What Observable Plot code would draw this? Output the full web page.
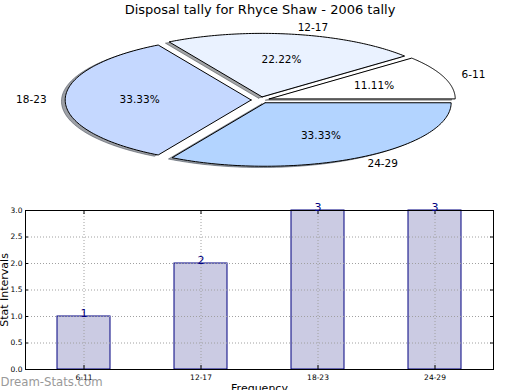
<!DOCTYPE html>
<html><head><meta charset="utf-8">
<script src="https://cdn.jsdelivr.net/npm/d3@7"></script>
<script src="https://cdn.jsdelivr.net/npm/@observablehq/plot@0.6"></script>
<style>
body{margin:0;background:#fff;}
#wrap{position:relative;width:520px;height:390px;overflow:hidden;font-family:"DejaVu Sans";}
#title{position:absolute;left:0;top:2px;width:520px;text-align:center;font-size:13px;line-height:15px;color:#000;}
#pie{position:absolute;left:0;top:0;}
#bar{position:absolute;left:0;top:200px;}
</style>
</head><body>
<div id="wrap">
  <div id="pie"></div>
  <div id="bar"></div>
  <div id="title">Disposal tally for Rhyce Shaw - 2006 tally</div>
</div>
<script>
const titleText = "Disposal tally for Rhyce Shaw - 2006 tally";
const categories = ["6-11", "12-17", "18-23", "24-29"];
const counts = [1, 2, 3, 3];
const pieColors = ["#ffffff", "#eaf2ff", "#c5d8ff", "#b3d4ff"];
const explode = [0.05, 0.05, 0.05, 0.05];
const yTicks = [0, 0.5, 1, 1.5, 2, 2.5, 3];
const xLabel = "Frequency";
const yLabel = "Stat Intervals";
const watermark = "Dream-Stats.com";

// ---- pie geometry (data units, unit radius) ----
const total = d3.sum(counts);
const slices = [], shadows = [], names = [], pcts = [];
let acc = 0;
categories.forEach((c, i) => {
  const frac = counts[i] / total;
  const a0 = acc * 2 * Math.PI, a1 = (acc + frac) * 2 * Math.PI;
  acc += frac;
  const mid = (a0 + a1) / 2;
  const ox = explode[i] * Math.cos(mid), oy = explode[i] * Math.sin(mid);
  const pts = [{k: c, x: ox, y: oy}];
  const n = 90;
  for (let j = 0; j <= n; j++) {
    const t = a0 + (a1 - a0) * j / n;
    pts.push({k: c, x: ox + Math.cos(t), y: oy + Math.sin(t)});
  }
  pts.push({k: c, x: ox, y: oy});
  slices.push(pts);
  shadows.push(pts.map(p => ({k: c, x: p.x - 0.02, y: p.y - 0.02})));
  names.push({k: c, x: ox + 1.1 * Math.cos(mid), y: oy + 1.1 * Math.sin(mid), right: Math.cos(mid) > 0});
  pcts.push({k: c, x: ox + 0.6 * Math.cos(mid), y: oy + 0.6 * Math.sin(mid), t: (frac * 100).toFixed(2) + "%"});
});

function darker(hex) {
  const c = d3.rgb(hex);
  return d3.rgb(c.r * 0.3, c.g * 0.3, c.b * 0.3).formatHex();
}

const pie = Plot.plot({
  width: 520, height: 200,
  marginLeft: 74, marginRight: 74, marginTop: 36, marginBottom: 37,
  x: {domain: [-1, 1], axis: null},
  y: {domain: [-1, 1], axis: null},
  style: {fontFamily: "DejaVu Sans", background: "transparent"},
  marks: [
    ...shadows.map((s, i) => Plot.line(s, {x: "x", y: "y", fill: darker(pieColors[i]), stroke: darker(pieColors[i]), fillOpacity: 0.5, strokeOpacity: 0.5, strokeWidth: 1, curve: "linear"})),
    ...slices.map((s, i) => Plot.line(s, {x: "x", y: "y", fill: pieColors[i], stroke: "#000", strokeWidth: 1, strokeLinejoin: "miter", curve: "linear"})),
    Plot.text(names.filter(d => d.right), {x: "x", y: "y", text: "k", textAnchor: "start", fontSize: 10.5, fill: "#000"}),
    Plot.text(names.filter(d => !d.right), {x: "x", y: "y", text: "k", textAnchor: "end", fontSize: 10.5, fill: "#000"}),
    Plot.text(pcts, {x: "x", y: "y", text: "t", textAnchor: "middle", fontSize: 10.5, fill: "#000"})
  ]
});
document.getElementById("pie").appendChild(pie);

// ---- bar chart ----
const barData = categories.map((c, i) => ({cat: c, v: counts[i]}));
const bar = Plot.plot({
  width: 520, height: 190,
  marginLeft: 25, marginRight: 27, marginTop: 10, marginBottom: 21,
  x: {domain: categories, paddingInner: 0.547, paddingOuter: 0.2735, label: null},
  y: {domain: [0, 3], label: null},
  style: {fontFamily: "DejaVu Sans", background: "transparent", overflow: "visible"},
  marks: [
    Plot.barY(barData, {x: "cat", y: "v", fill: "#cbcbe3", stroke: "#000080", strokeWidth: 1}),
    Plot.gridY(yTicks, {stroke: "#a0a0a0", strokeOpacity: 1, strokeDasharray: "1,2"}),
    Plot.gridX(categories, {stroke: "#a0a0a0", strokeOpacity: 1, strokeDasharray: "1,2"}),
    Plot.tickY(yTicks, {y: d => d, insetRight: 465, stroke: "#000"}),
    Plot.tickY(yTicks, {y: d => d, insetLeft: 465, stroke: "#000"}),
    Plot.tickX(categories, {x: d => d, insetTop: 155, stroke: "#000"}),
    Plot.tickX(categories, {x: d => d, insetBottom: 155, stroke: "#000"}),
    Plot.frame({stroke: "#000", strokeWidth: 1}),
    Plot.axisY(yTicks, {tickFormat: d3.format(".1f"), tickSize: 0, tickPadding: 3, fontSize: 7.5, label: null, fill: "#000"}),
    Plot.axisX({tickSize: 0, tickPadding: 5, fontSize: 7.5, label: null, fill: "#000"}),
    Plot.text(barData, {x: "cat", y: "v", text: d => String(d.v), lineAnchor: "bottom", fill: "#000080", fontSize: 11}),
    Plot.text([yLabel], {text: d => d, frameAnchor: "left", textAnchor: "middle", lineAnchor: "middle", rotate: -90, dx: -21, fontSize: 11, fill: "#000"}),
    Plot.text([xLabel], {text: d => d, frameAnchor: "bottom", lineAnchor: "top", dy: 15, fontSize: 11, fill: "#000"}),
    Plot.text([watermark], {text: d => d, frameAnchor: "bottom-left", textAnchor: "start", lineAnchor: "bottom", dx: -25, dy: 16.5, fontSize: 13, fontFamily: "DejaVu Sans Condensed", fill: "#999999"})
  ]
});
document.getElementById("bar").appendChild(bar);
</script>
</body></html>
